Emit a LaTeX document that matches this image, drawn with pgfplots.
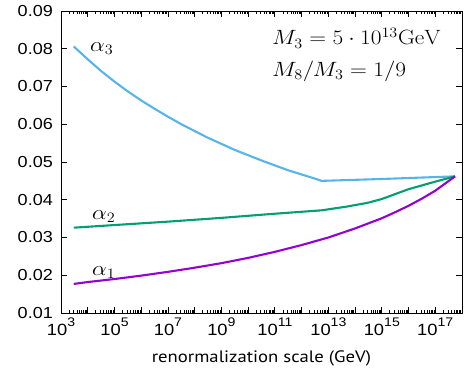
\documentclass[border=0pt]{standalone}
\usepackage[no-math]{fontspec}
\setmainfont{Liberation Sans}
\newfontfamily\labelfont{PT Sans}
\usepackage{graphicx}
\usepackage{pgfplots}
\pgfplotsset{compat=1.18}
\definecolor{cA}{RGB}{148,0,211}
\definecolor{cB}{RGB}{0,158,115}
\definecolor{cC}{RGB}{86,180,233}
\newcommand\sx[1]{\scalebox{1.13}[1]{#1}}
\newcommand\tp[1]{\sx{10\raisebox{8.3bp}{\fontsize{12.5}{13}\selectfont #1}}}
\pgfplotstableread{
x y
3e3 0.0806
1e4 0.0772
3.16e4 0.0741
1e5 0.0713
3.16e5 0.0687
1e6 0.0663
3.16e6 0.0641
1e7 0.0620
3.16e7 0.0600
1e8 0.0582
3.16e8 0.0564
1e9 0.0548
3.16e9 0.0532
1e10 0.0518
3.16e10 0.0504
1e11 0.0491
3.16e11 0.0478
1e12 0.0467
3.16e12 0.0456
5.6e12 0.0450
1e15 0.0455
5.5e17 0.0462
}\alphaC
\pgfplotstableread{
x y
3e3 0.0326
1e5 0.0333
1e7 0.0342
1e9 0.0352
1e11 0.0363
5.6e12 0.0372
5e13 0.0382
3e14 0.0392
1e15 0.0402
1e16 0.0428
1e17 0.0448
5.5e17 0.0462
}\alphaB
\pgfplotstableread{
x y
3e3 0.0177
1e4 0.0182
1e5 0.0190
1e6 0.0199
1e7 0.0209
1e8 0.0220
1e9 0.0232
1e10 0.0246
1e11 0.0262
1e12 0.0280
5.6e12 0.0295
1e13 0.0300
1e14 0.0324
1e15 0.0351
3.16e15 0.0367
1e16 0.0384
3.16e16 0.0403
1e17 0.0424
5.5e17 0.0462
}\alphaA
\begin{document}
\begin{tikzpicture}
\useasboundingbox (-61bp,-59bp) rectangle (408bp,313bp);
\begin{axis}[
  scale only axis, width=401bp, height=302bp,
  xmode=log, xmin=1e3, xmax=1e18, ymin=0.01, ymax=0.09,
  scaled y ticks=false,
  axis line style={line width=1pt},
  tick style={line width=0.8pt, black},
  major tick length=6bp, minor tick length=3bp,
  tick align=inside,
  xtick={1e3,1e4,1e5,1e6,1e7,1e8,1e9,1e10,1e11,1e12,1e13,1e14,1e15,1e16,1e17,1e18},
  xticklabels={\tp{3},,\tp{5},,\tp{7},,\tp{9},,\tp{11},,\tp{13},,\tp{15},,\tp{17},},
  minor xtick={2e3,3e3,4e3,5e3,6e3,7e3,8e3,9e3,
    2e4,3e4,4e4,5e4,6e4,7e4,8e4,9e4,
    2e5,3e5,4e5,5e5,6e5,7e5,8e5,9e5,
    2e6,3e6,4e6,5e6,6e6,7e6,8e6,9e6,
    2e7,3e7,4e7,5e7,6e7,7e7,8e7,9e7,
    2e8,3e8,4e8,5e8,6e8,7e8,8e8,9e8,
    2e9,3e9,4e9,5e9,6e9,7e9,8e9,9e9,
    2e10,3e10,4e10,5e10,6e10,7e10,8e10,9e10,
    2e11,3e11,4e11,5e11,6e11,7e11,8e11,9e11,
    2e12,3e12,4e12,5e12,6e12,7e12,8e12,9e12,
    2e13,3e13,4e13,5e13,6e13,7e13,8e13,9e13,
    2e14,3e14,4e14,5e14,6e14,7e14,8e14,9e14,
    2e15,3e15,4e15,5e15,6e15,7e15,8e15,9e15,
    2e16,3e16,4e16,5e16,6e16,7e16,8e16,9e16,
    2e17,3e17,4e17,5e17,6e17,7e17,8e17,9e17},
  ytick={0.01,0.02,0.03,0.04,0.05,0.06,0.07,0.08,0.09},
  yticklabels={\sx{0.01},\sx{0.02},\sx{0.03},\sx{0.04},\sx{0.05},\sx{0.06},\sx{0.07},\sx{0.08},\sx{0.09}},
  yticklabel style={font=\fontsize{16}{18}\selectfont, inner sep=0pt, anchor=east, xshift=-8bp},
  xticklabel style={font=\fontsize{16.3}{18}\selectfont, inner sep=0pt, anchor=base, yshift=-22bp},
  xlabel={\sx{renormalization scale (GeV)}},
  xlabel style={font=\labelfont\fontsize{16.6}{19}\selectfont, at={(rel axis cs:0.5,0)}, anchor=base, yshift=-49.5bp, inner sep=0pt},
]
\addplot[cC, line width=2.1pt] table {\alphaC};
\addplot[cB, line width=2.1pt] table {\alphaB};
\addplot[cA, line width=2.1pt] table {\alphaA};
\node[anchor=base west, inner sep=0pt, font=\fontsize{19.5}{24}\selectfont] at (axis cs:1.22e4,0.0794) {\sx{$\alpha_3$}};
\node[anchor=base west, inner sep=0pt, font=\fontsize{19.5}{24}\selectfont] at (axis cs:1.45e4,0.0348) {\sx{$\alpha_2$}};
\node[anchor=base west, inner sep=0pt, font=\fontsize{19.5}{24}\selectfont] at (axis cs:1.45e4,0.0200) {\sx{$\alpha_1$}};
\node[anchor=base west, inner sep=0pt, font=\fontsize{19.5}{24}\selectfont] at (axis cs:7.8e10,0.0810) {\sx{$M_3=5\cdot 10^{13}\mathrm{GeV}$}};
\node[anchor=base west, inner sep=0pt, font=\fontsize{19.5}{24}\selectfont] at (axis cs:7.8e10,0.0726) {\sx{$M_8/M_3=1/9$}};
\end{axis}
\end{tikzpicture}
\end{document}
